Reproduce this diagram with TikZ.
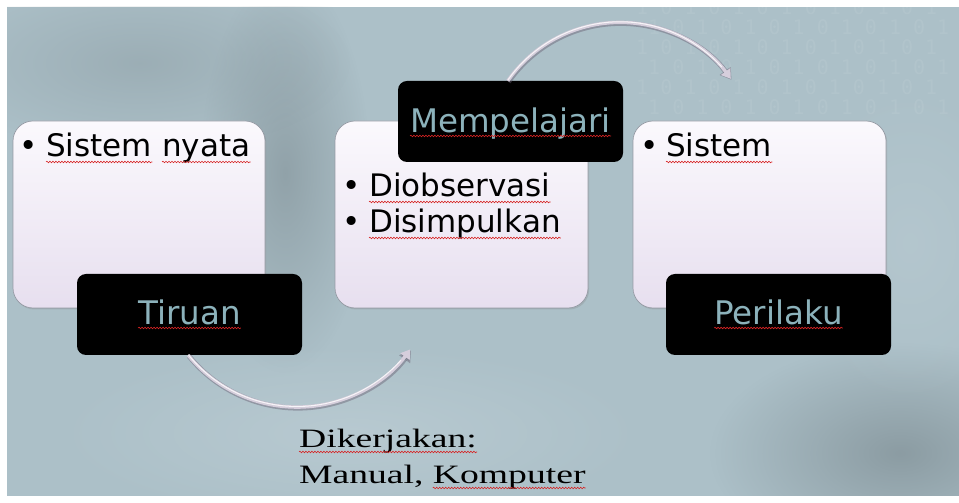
\documentclass[tikz,border=0pt]{standalone}
\usepackage{fontspec}
\usetikzlibrary{arrows.meta,decorations.pathmorphing,fadings,shadows}

\newfontfamily\sansface{DejaVu Sans}
\newfontfamily\monoface{DejaVu Sans Mono}
\newfontfamily\serifwide{Liberation Serif}[FakeStretch=1.42]

\definecolor{bgbase}{RGB}{172,192,200}
\definecolor{bgdark}{RGB}{118,132,138}
\definecolor{bglight}{RGB}{192,208,215}
\definecolor{cardtop}{RGB}{251,249,253}
\definecolor{cardbottom}{RGB}{231,223,239}
\definecolor{cardedge}{RGB}{150,155,165}
\definecolor{tagtext}{RGB}{140,178,187}
\definecolor{tubemain}{RGB}{214,206,220}
\definecolor{tubeshade}{RGB}{105,96,115}
\definecolor{spell}{RGB}{215,35,35}

\tikzfading[name=softblob, inner color=transparent!0, outer color=transparent!100]

\tikzset{
  card/.style={rounded corners=20pt, top color=cardtop, bottom color=cardbottom,
    draw=cardedge, line width=0.7pt, minimum width=252pt, minimum height=187pt,
    inner sep=0pt, drop shadow={opacity=0.25, shadow xshift=1.2pt, shadow yshift=-1.5pt}},
  tag/.style={rounded corners=9pt, fill=black, minimum width=225pt,
    minimum height=81pt, inner sep=0pt},
  tagword/.style={inner sep=0pt, anchor=base, text=tagtext,
    font=\sansface\fontsize{32.5}{38}\selectfont},
  item/.style={inner sep=0pt, anchor=base west, text=black,
    font=\sansface\fontsize{31}{36}\selectfont},
  dot/.style={inner sep=0pt, anchor=base, text=black,
    font=\sansface\fontsize{31}{36}\selectfont},
  note/.style={inner sep=0pt, anchor=base west, text=black,
    font=\serifwide\fontsize{26.5}{30}\selectfont},
  digits/.style={inner sep=0pt, anchor=base west, text=white, opacity=0.07,
    font=\monoface\fontsize{20}{24}\selectfont},
  squiggle/.style={draw=spell, line width=0.6pt, decorate,
    decoration={snake, amplitude=0.8pt, segment length=3pt}},
  tubeshadow/.style={line width=5pt, draw=tubeshade, opacity=0.45,
    -{Triangle[length=11pt,width=13pt]}},
  tube/.style={line width=3.4pt, draw=tubemain,
    -{Triangle[length=9pt,width=11pt]}},
  tubeshine/.style={line width=1pt, draw=white, opacity=0.8}
}

% red wavy underline below a word node
\newcommand\spellmark[2]{\draw[squiggle] ([yshift=-#2]#1.base west) -- ([yshift=-#2]#1.base east);}

\begin{document}
\begin{tikzpicture}[x=1pt,y=1pt]
  \useasboundingbox (0,0) rectangle (959,503);
  \fill[white] (0,0) rectangle (959,503);

  % slide background
  \fill[bgbase] (7,7) rectangle (959,496);
  \begin{scope}
    \clip (7,7) rectangle (959,496);
    \fill[bgdark, opacity=0.5, path fading=softblob] (285,330) ellipse (85 and 200);
    \fill[bgdark, opacity=0.3, path fading=softblob] (140,440) ellipse (210 and 90);
    \fill[bgdark, opacity=0.6, path fading=softblob] (900,50) ellipse (190 and 110);
    \fill[bglight, opacity=0.6, path fading=softblob] (350,70) ellipse (300 and 90);
    \fill[bglight, opacity=0.4, path fading=softblob] (910,260) ellipse (120 and 160);
    \foreach \r/\off in {0/0,1/12,2/0,3/12,4/0,5/12}{
      \node[digits] (bin\r) at (636+\off,488-20*\r) {1 0 1 0 1 0 1 0 1 0 1 0 1};
    }
  \end{scope}

  % cards
  \node[card] (box1) at (139,288.5) {};
  \node[card, minimum width=253pt] (box2) at (461.5,288.5) {};
  \node[card, minimum width=253pt] (box3) at (759.5,288.5) {};

  % card one
  \node[dot] (b1d) at (29,346) {•};
  \node[item] (b1w1) at (46,346) {Sistem};
  \node[item] (b1w2) at ([xshift=9.8pt]b1w1.base east) {nyata};
  \spellmark{b1w1}{5pt}
  \spellmark{b1w2}{5pt}

  % card two
  \node[dot] (b2d1) at (352,306) {•};
  \node[item] (b2w1) at (369,306) {Diobservasi};
  \node[dot] (b2d2) at (352,270) {•};
  \node[item] (b2w2) at (369,270) {Disimpulkan};
  \spellmark{b2w1}{5pt}
  \spellmark{b2w2}{5pt}

  % card three
  \node[dot] (b3d) at (650,346) {•};
  \node[item] (b3w1) at (666,346) {Sistem};
  \spellmark{b3w1}{5pt}

  % black tags
  \node[tag] (tiruan) at (189.5,188.5) {};
  \node[tagword] (tiruanW) at ([yshift=-10.5pt]tiruan.center) {Tiruan};
  \spellmark{tiruanW}{3pt}

  \node[tag] (mempelajari) at (510.5,381.5) {};
  \node[tagword] (mempelajariW) at ([yshift=-11.5pt]mempelajari.center) {Mempelajari};
  \spellmark{mempelajariW}{3pt}

  \node[tag] (perilaku) at (778.5,188.5) {};
  \node[tagword] (perilakuW) at ([yshift=-10.5pt]perilaku.center) {Perilaku};
  \spellmark{perilakuW}{3pt}

  % curved arrows
  \draw[tubeshadow] ([xshift=-0.5pt,yshift=-1pt]tiruan.south) arc[start angle=219, end angle=324, radius=140pt];
  \draw[tube] ([xshift=-1.3pt]tiruan.south) arc[start angle=219, end angle=324, radius=140pt];
  \draw[tubeshine] ([xshift=-1.3pt,yshift=0.6pt]tiruan.south) arc[start angle=219, end angle=318, radius=140pt];

  \draw[tubeshadow] ([xshift=-2pt,yshift=-1pt]mempelajari.north) arc[start angle=145, end angle=36, radius=137pt];
  \draw[tube] ([xshift=-2.7pt]mempelajari.north) arc[start angle=145, end angle=36, radius=137pt];
  \draw[tubeshine] ([xshift=-2.7pt,yshift=0.6pt]mempelajari.north) arc[start angle=145, end angle=42, radius=137pt];

  % caption below
  \node[note] (dik) at (299,55) {Dikerjakan:};
  \node[note] (man) at (299,19) {Manual,};
  \node[note] (kom) at ([xshift=9pt]man.base east) {Komputer};
  \spellmark{dik}{4pt}
  \spellmark{kom}{4pt}
\end{tikzpicture}
\end{document}
